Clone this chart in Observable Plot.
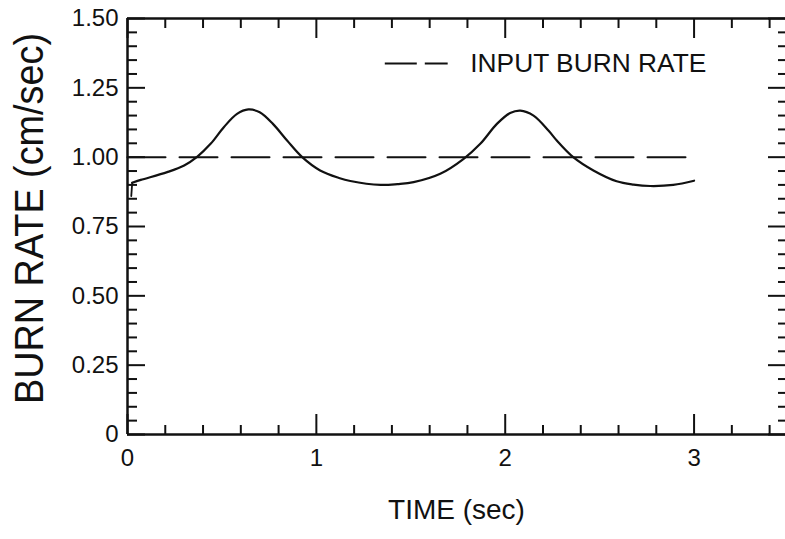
<!DOCTYPE html>
<html>
<head>
<meta charset="utf-8">
<script src="https://cdn.jsdelivr.net/npm/d3@7"></script>
<script src="https://cdn.jsdelivr.net/npm/@observablehq/plot@0.6"></script>
<style>
  html, body { margin: 0; padding: 0; background: #fff; overflow: hidden; }
  #chart svg { display: block; }
</style>
</head>
<body>
<div id="chart"></div>
<script>
// ---- data ----
const time = [0.025, 0.07, 0.21, 0.30, 0.37, 0.44, 0.51, 0.58, 0.64, 0.70, 0.77, 0.845, 0.925, 1.02, 1.12, 1.18, 1.34, 1.43, 1.515, 1.656, 1.78, 1.868, 1.956, 2.026, 2.08, 2.15, 2.23, 2.273, 2.36, 2.467, 2.59, 2.68, 2.767, 2.89, 3.0];
const burnRate = [0.908, 0.918, 0.946, 0.970, 1.002, 1.048, 1.108, 1.156, 1.172, 1.162, 1.12, 1.06, 1.0, 0.952, 0.925, 0.914, 0.900, 0.903, 0.910, 0.940, 0.994, 1.048, 1.12, 1.159, 1.168, 1.15, 1.095, 1.06, 1.0, 0.952, 0.913, 0.901, 0.896, 0.900, 0.915];
// short start-up transient at the very beginning
const startTime = [0.02, 0.025];
const startRate = [0.86, 0.908];
const inputTime = [0, 3.0];
const inputRate = [1.0, 1.0];

const xMajorTicks = [0, 1, 2, 3];
const xTickLabels = ["0", "1", "2", "3"];
const xMinorTicks = [0.2, 0.4, 0.6, 0.8, 1.2, 1.4, 1.6, 1.8, 2.2, 2.4, 2.6, 2.8, 3.2, 3.4];
const yMajorTicks = [0, 0.25, 0.5, 0.75, 1.0, 1.25, 1.5];
const yTickLabels = ["0", "0.25", "0.50", "0.75", "1.00", "1.25", "1.50"];
const yMinorTicks = [0.05, 0.1, 0.15, 0.2, 0.3, 0.35, 0.4, 0.45, 0.55, 0.6, 0.65, 0.7, 0.8, 0.85, 0.9, 0.95, 1.05, 1.1, 1.15, 1.2, 1.3, 1.35, 1.4, 1.45];

const xTitle = "TIME (sec)";
const yTitle = "BURN RATE (cm/sec)";
const legendLabel = "INPUT BURN RATE";
// legend placement in data units
const legendY = [1.338];
const legendLineX = [1.365, 1.698];
const legendTextX = [1.815];

// ---- build ----
const W = 785, H = 539;
const mL = 127, mT = 18, mB = 105, mR = 0;
const frameW = W - mL - mR, frameH = H - mT - mB;

const curve = time.map((t, i) => ({t, v: burnRate[i]}));
const start = startTime.map((t, i) => ({t, v: startRate[i]}));
const input = inputTime.map((t, i) => ({t, v: inputRate[i]}));

const ink = "#111";
const fontFamily = "'Liberation Sans', Arial, Helvetica, sans-serif";

const plot = Plot.plot({
  width: W,
  height: H,
  marginLeft: mL, marginTop: mT, marginBottom: mB, marginRight: mR,
  style: {fontFamily, background: "#fff", color: ink},
  x: {domain: [0, 3.5], range: [mL, 788], axis: null},
  y: {domain: [0, 1.5], axis: null},
  marks: [
    // frame lines
    Plot.ruleX([0], {x: d => d, stroke: ink, strokeWidth: 2.5}),
    Plot.ruleX([3.5], {x: d => d, stroke: ink, strokeWidth: 2.5}),
    Plot.ruleY([0], {y: d => d, stroke: ink, strokeWidth: 2.5}),
    Plot.ruleY([1.5], {y: d => d, stroke: ink, strokeWidth: 2.5}),
    // bottom ticks (inward)
    Plot.ruleX(xMajorTicks, {x: d => d, insetTop: frameH - 20, stroke: ink, strokeWidth: 2}),
    Plot.ruleX(xMinorTicks, {x: d => d, insetTop: frameH - 9, stroke: ink, strokeWidth: 2}),
    // top ticks (inward)
    Plot.ruleX(xMajorTicks, {x: d => d, insetBottom: frameH - 20, stroke: ink, strokeWidth: 2}),
    Plot.ruleX(xMinorTicks, {x: d => d, insetBottom: frameH - 10, stroke: ink, strokeWidth: 2}),
    // left ticks (inward)
    Plot.ruleY(yMajorTicks, {y: d => d, insetRight: frameW - 18, stroke: ink, strokeWidth: 2}),
    Plot.ruleY(yMinorTicks, {y: d => d, insetRight: frameW - 10, stroke: ink, strokeWidth: 2}),
    // right ticks (inward, frame just beyond the visible edge)
    Plot.ruleY(yMajorTicks, {y: d => d, insetLeft: frameW - 17, stroke: ink, strokeWidth: 2}),
    Plot.ruleY(yMinorTicks, {y: d => d, insetLeft: frameW - 7, stroke: ink, strokeWidth: 2}),
    // tick labels
    Plot.text(xMajorTicks, {x: d => d, text: (d, i) => xTickLabels[i], frameAnchor: "bottom", dy: 31, fontSize: 24, fill: ink}),
    Plot.text(yMajorTicks, {y: d => d, text: (d, i) => yTickLabels[i], frameAnchor: "left", dx: -9, textAnchor: "end", fontSize: 24, fill: ink}),
    // axis titles
    Plot.text([xTitle], {text: d => d, frameAnchor: "bottom", dy: 84, fontSize: 28, fill: ink}),
    Plot.text([yTitle], {text: d => d, frameAnchor: "left", textAnchor: "middle", dx: -98, dy: -8, rotate: -90, fontSize: 41, fill: ink}),
    // input burn rate (dashed)
    Plot.line(input, {x: "t", y: "v", stroke: ink, strokeWidth: 2, strokeDasharray: "38,14"}),
    // computed burn rate
    Plot.line(start, {x: "t", y: "v", stroke: ink, strokeWidth: 1.8}),
    Plot.line(curve, {x: "t", y: "v", stroke: ink, strokeWidth: 2.2, curve: "catmull-rom"}),
    // legend
    Plot.ruleY(legendY, {y: d => d, x1: legendLineX[0], x2: legendLineX[1], stroke: ink, strokeWidth: 2, strokeDasharray: "32,8"}),
    Plot.text(legendY, {y: d => d, x: legendTextX[0], text: () => legendLabel, textAnchor: "start", fontSize: 26, fill: ink})
  ]
});

// compress a few texts to match the condensed lettering of the original
d3.select(plot).selectAll("text").each(function() {
  const s = this.textContent;
  if (s === yTitle) { this.setAttribute("textLength", 371); this.setAttribute("lengthAdjust", "spacingAndGlyphs"); }
  if (s === legendLabel) { this.setAttribute("textLength", 236); this.setAttribute("lengthAdjust", "spacingAndGlyphs"); }
});

document.getElementById("chart").appendChild(plot);
</script>
</body>
</html>
